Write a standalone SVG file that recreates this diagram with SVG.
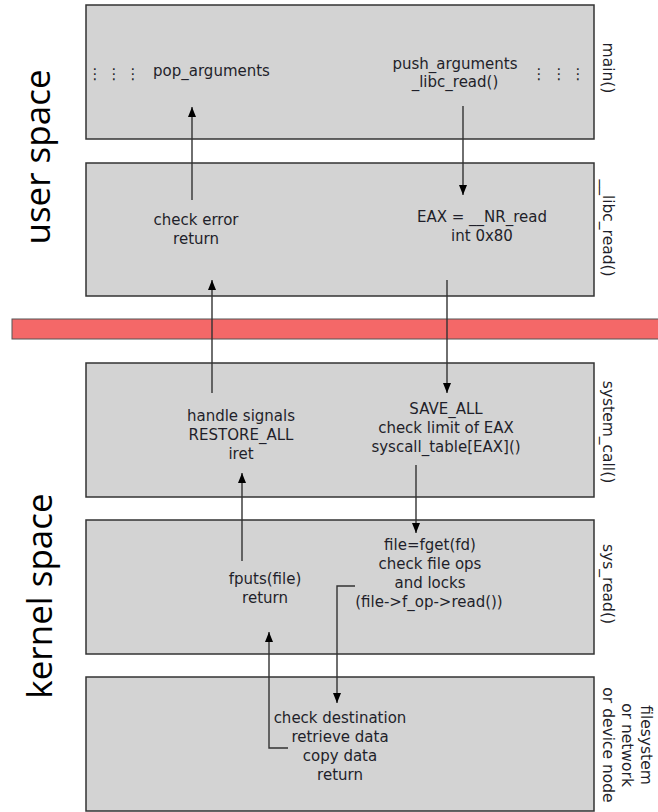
<svg xmlns="http://www.w3.org/2000/svg" width="658" height="812" viewBox="0 0 658 812">
<style>
.box{fill:#d3d3d3;stroke:#333;stroke-width:1.5}
.t{font-family:"DejaVu Sans",sans-serif;font-size:15px;fill:#1f1f2a;text-anchor:middle}
.s{font-family:"DejaVu Sans",sans-serif;font-size:15.5px;fill:#1f1f2a;text-anchor:middle}
.big{font-family:"Open Sans",sans-serif;font-size:35px;fill:#000;text-anchor:middle}
.c{fill:none;stroke:#333;stroke-width:1.4}
</style>
<defs>
<marker id="ah" viewBox="0 0 10 8" refX="10" refY="4" markerWidth="10" markerHeight="8" orient="auto" markerUnits="userSpaceOnUse">
<path d="M0,0 L10,4 L0,8 z" fill="#000"/>
</marker>
</defs>
<text class="big" transform="translate(50,157) rotate(-90)">user space</text>
<text class="big" transform="translate(52,596) rotate(-90)">kernel space</text>
<rect x="12" y="319" width="660" height="20" fill="#f46868" stroke="#555" stroke-width="1"/>
<g id="main">
<rect class="box" x="86" y="5" width="508" height="134"/>
<text class="t" x="95 114 133" y="79">⋮⋮⋮</text>
<text class="t" x="211.5" y="76">pop_arguments</text>
<text class="t" x="455" y="69">push_arguments</text>
<text class="t" x="455" y="87">_libc_read()</text>
<text class="t" x="539 559 578" y="79">⋮⋮⋮</text>
<text class="s" transform="translate(603,68) rotate(90)">main()</text>
</g>
<g id="libc_read">
<rect class="box" x="86" y="163" width="508" height="133"/>
<text class="t" x="196" y="225">check error</text>
<text class="t" x="196" y="244">return</text>
<text class="t" x="482" y="222">EAX = __NR_read</text>
<text class="t" x="482" y="241">int 0x80</text>
<text class="s" transform="translate(603,228) rotate(90)">__libc_read()</text>
</g>
<g id="system_call">
<rect class="box" x="86" y="363" width="508" height="134"/>
<text class="t" x="241" y="421">handle signals</text>
<text class="t" x="241" y="440">RESTORE_ALL</text>
<text class="t" x="241" y="459">iret</text>
<text class="t" x="446" y="414">SAVE_ALL</text>
<text class="t" x="446" y="433">check limit of EAX</text>
<text class="t" x="446" y="452">syscall_table[EAX]()</text>
<text class="s" transform="translate(603,432) rotate(90)">system_call()</text>
</g>
<g id="sys_read">
<rect class="box" x="86" y="520" width="508" height="134"/>
<text class="t" x="265" y="584">fputs(file)</text>
<text class="t" x="265" y="603">return</text>
<text class="t" x="430" y="550">file=fget(fd)</text>
<text class="t" x="430" y="569">check file ops</text>
<text class="t" x="430" y="588">and locks</text>
<text class="t" x="429" y="607">(file-&gt;f_op-&gt;read())</text>
<text class="s" transform="translate(603,584) rotate(90)">sys_read()</text>
</g>
<g id="device">
<rect class="box" x="86" y="677" width="508" height="134"/>
<text class="t" x="340" y="723">check destination</text>
<text class="t" x="340" y="742">retrieve data</text>
<text class="t" x="340" y="761">copy data</text>
<text class="t" x="340" y="780">return</text>
<text class="s" transform="translate(641,745) rotate(90)">filesystem</text>
<text class="s" transform="translate(622,745) rotate(90)">or network</text>
<text class="s" transform="translate(603,745) rotate(90)">or device node</text>
</g>
<g id="connectors">
<path class="c" d="M192,200 V107" marker-end="url(#ah)"/>
<path class="c" d="M463,106 V195" marker-end="url(#ah)"/>
<path class="c" d="M212,393 V280" marker-end="url(#ah)"/>
<path class="c" d="M447,280 V393" marker-end="url(#ah)"/>
<path class="c" d="M242,561 V473" marker-end="url(#ah)"/>
<path class="c" d="M416,465 V533" marker-end="url(#ah)"/>
<path class="c" d="M288,748 H269 V632" marker-end="url(#ah)"/>
<path class="c" d="M355,586 H337 V703" marker-end="url(#ah)"/>
</g>
</svg>
